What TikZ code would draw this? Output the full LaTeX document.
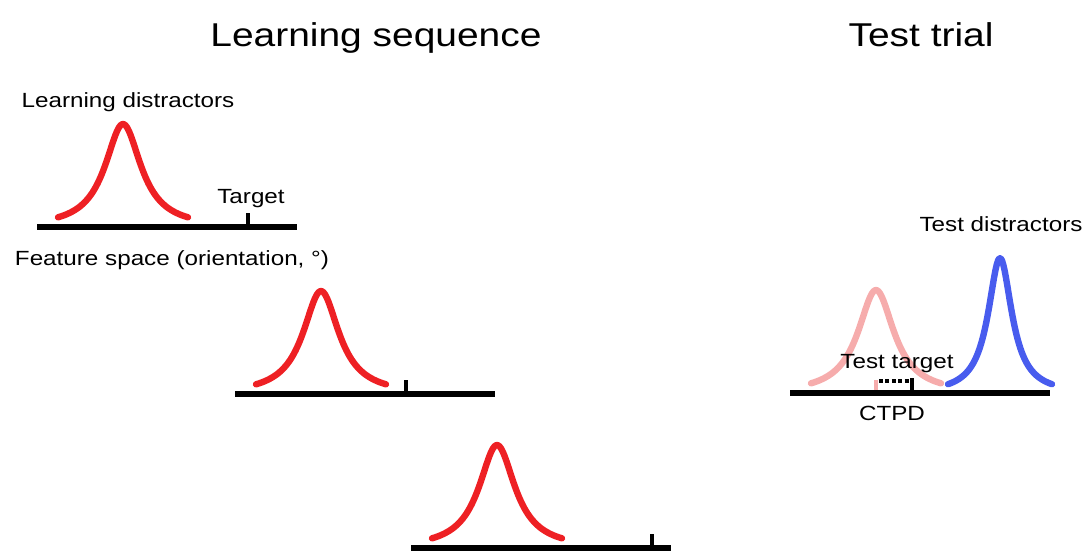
\documentclass[tikz,border=0pt]{standalone}
\usepackage{fontspec}
\setmainfont{Liberation Sans}[FakeStretch=1.18]
\definecolor{bumpred}{RGB}{238,32,36}
\definecolor{bumppink}{RGB}{246,172,172}
\definecolor{bumpblue}{RGB}{72,92,238}
\begin{document}
\begin{tikzpicture}[x=0.75pt,y=-0.75pt,line cap=butt,line join=round,
    axisline/.style={line width=5pt},
    tickmark/.style={line width=3.5pt},
    bump/.style={line width=4.8pt,line cap=round},
    lbl/.style={anchor=base,inner sep=0pt,font=\fontsize{15.4}{18}\selectfont},
    heading/.style={anchor=base,inner sep=0pt,font=\fontsize{24.75}{30}\selectfont}]
  \useasboundingbox (0,0) rectangle (1085,551);
  % learning sequence: three displays
  \foreach \cx/\ay/\tx in {123/227/248, 321/394/406, 497/548/652} {
    \draw[bump,bumpred] plot[domain=-65:65,samples=80]
      ({\cx+\x},{\ay+1-104/(1+(\x*\x)/484)});
    \draw[axisline] (\cx-86,\ay) -- (\cx+174,\ay);
    \draw[tickmark] (\tx,\ay-14) -- (\tx,\ay);
  }
  % test trial
  \draw[bump,bumppink] plot[domain=-65:65,samples=80]
    ({876+\x},{394-104/(1+(\x*\x)/484)});
  \draw[bump,bumpblue] plot[domain=-52:52,samples=80]
    ({1000+\x},{394-136/(1+(\x*\x)/210)});
  \draw[line width=3pt,bumppink] (876,380) -- (876,391);
  \draw[axisline] (790,393) -- (1050,393);
  \draw[line width=2.6pt,dash pattern=on 3pt off 1.8pt] (879,381) -- (911,381);
  \draw[tickmark] (912,378) -- (912,393);
  \node[heading] (seqtitle) at (376,46) {Learning sequence};
  \node[heading] (testtitle) at (921,46) {Test trial};
  \node[lbl] (learndist) at (128,107) {Learning distractors};
  \node[lbl] (targetlbl) at (251,203) {Target};
  \node[lbl] (featlbl) at (172,265) {Feature space (orientation, °)};
  \node[lbl] (testdist) at (1001,231) {Test distractors};
  \node[lbl] (testtarget) at (897,368) {Test target};
  \node[lbl] (ctpd) at (892,420) {CTPD};
\end{tikzpicture}
\end{document}
